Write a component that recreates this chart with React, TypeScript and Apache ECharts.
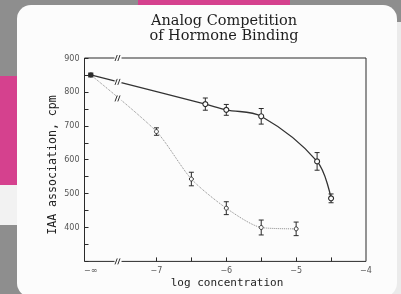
import React, { useEffect, useRef } from "react";
import * as echarts from "echarts";

// ---- data ----
const NEG_INF = -7.94; // plotting position of the "−∞" concentration
const BREAK_X = -7.55; // axis break position
const solidX = [NEG_INF, -6.3, -6, -5.5, -4.7, -4.5];
const solidY = [850, 764, 747, 728, 595, 486];
const solidErr = [0, 18, 16, 23, 26, 13];
const dotX = [NEG_INF, -7, -6.5, -6, -5.5, -5];
const dotY = [850, 683, 543, 457, 400, 396];
const dotErr = [0, 11, 20, 19, 22, 20];
const xTickValues = [-7, -6.5, -6, -5.5, -5, -4.5];
const xLabelValues = [NEG_INF, -7, -6, -5, -4];
const yMin = 300;
const yMax = 900;
const xMin = -8.03;
const xMax = -4;

function interpY(xs: number[], ys: number[], x: number) {
  for (let i = 0; i < xs.length - 1; i++) {
    if (x >= xs[i] && x <= xs[i + 1]) {
      const t = (x - xs[i]) / (xs[i + 1] - xs[i]);
      return ys[i] + t * (ys[i + 1] - ys[i]);
    }
  }
  return ys[0];
}

const GREY = "#8e8e8e";
const PINK = "#d5418e";
const CARD = "#fcfcfc";
const INK = "#2a2a2a";

export default function App() {
  const ref = useRef<HTMLDivElement>(null);
  useEffect(() => {
    if (!ref.current) return;
    const chart = echarts.init(ref.current, undefined, { renderer: "svg" });

    const errData = (xs: number[], ys: number[], es: number[]) =>
      xs.map((x, i) => [x, ys[i], es[i]]).filter((d) => d[2] > 0);

    const errorSeries = (data: number[][], color: string) => ({
      type: "custom",
      z: 3,
      clip: false,
      data,
      renderItem: (params: any, api: any) => {
        const x = api.value(0);
        const y = api.value(1);
        const e = api.value(2);
        const top = api.coord([x, y + e]);
        const bot = api.coord([x, y - e]);
        const hw = 2.5;
        const st = { stroke: color, lineWidth: 1 };
        return {
          type: "group",
          children: [
            { type: "line", shape: { x1: top[0], y1: top[1], x2: bot[0], y2: bot[1] }, style: st },
            { type: "line", shape: { x1: top[0] - hw, y1: top[1], x2: top[0] + hw, y2: top[1] }, style: st },
            { type: "line", shape: { x1: bot[0] - hw, y1: bot[1], x2: bot[0] + hw, y2: bot[1] }, style: st },
          ],
        };
      },
    });

    const breakData = [
      [BREAK_X, yMax],
      [BREAK_X, yMin],
      [BREAK_X, interpY(solidX, solidY, BREAK_X)],
      [BREAK_X, interpY(dotX, dotY, BREAK_X)],
    ];

    const option: any = {
      animation: false,
      graphic: [
        { type: "rect", z: -100, shape: { x: 0, y: 0, width: 401, height: 294 }, style: { fill: GREY } },
        { type: "rect", z: -99, shape: { x: 138, y: 0, width: 152, height: 30 }, style: { fill: PINK } },
        { type: "rect", z: -99, shape: { x: 0, y: 76, width: 30, height: 109 }, style: { fill: PINK } },
        { type: "rect", z: -99, shape: { x: 0, y: 185, width: 30, height: 40 }, style: { fill: "#f2f2f2" } },
        { type: "rect", z: -99, shape: { x: 390, y: 22, width: 11, height: 272 }, style: { fill: "#ebebeb" } },
        { type: "rect", z: -98, shape: { x: 17, y: 5, width: 380, height: 292, r: 14 }, style: { fill: CARD } },
        {
          type: "text",
          z: 10,
          x: 224,
          y: 12,
          style: {
            text: "Analog Competition\nof Hormone Binding",
            fontFamily: "DejaVu Serif",
            fontSize: 14.5,
            lineHeight: 15,
            fill: "#1e1e1e",
            align: "center",
            verticalAlign: "top",
          },
        },
        {
          type: "text",
          z: 10,
          x: 227,
          y: 282,
          style: {
            text: "log concentration",
            fontFamily: "DejaVu Sans Mono",
            fontSize: 11,
            fill: "#222",
            align: "center",
            verticalAlign: "middle",
          },
        },
        {
          type: "text",
          z: 10,
          x: 52,
          y: 165,
          rotation: Math.PI / 2,
          style: {
            text: "IAA association, cpm",
            fontFamily: "DejaVu Sans Mono",
            fontSize: 11.6,
            fill: "#222",
            align: "center",
            verticalAlign: "middle",
          },
        },
      ],
      grid: {
        left: 84.5,
        right: 35,
        top: 58,
        bottom: 32.6,
        show: true,
        borderColor: INK,
        borderWidth: 1,
        backgroundColor: "transparent",
      },
      xAxis: {
        type: "value",
        min: xMin,
        max: xMax,
        splitLine: { show: false },
        axisLine: { show: false },
        axisTick: {
          show: true,
          inside: true,
          length: 4,
          customValues: xTickValues,
          lineStyle: { color: INK },
        },
        axisLabel: {
          customValues: xLabelValues,
          margin: 5,
          fontSize: 8,
          fontFamily: "DejaVu Sans",
          color: "#555",
          formatter: (v: number) => (v < -7.5 ? "−∞" : "−" + Math.abs(v)),
        },
      },
      yAxis: {
        type: "value",
        min: yMin,
        max: yMax,
        interval: 50,
        splitLine: { show: false },
        axisLine: { show: false },
        axisTick: { show: true, inside: true, length: 4, lineStyle: { color: INK } },
        axisLabel: {
          margin: 5,
          fontSize: 8,
          fontFamily: "DejaVu Sans",
          color: "#555",
          formatter: (v: number) => (v % 100 === 0 && v > yMin ? String(v) : ""),
        },
      },
      series: [
        {
          type: "line",
          z: 4,
          smooth: 0.25,
          data: dotX.map((x, i) => [x, dotY[i]]),
          symbol: "circle",
          symbolSize: 4,
          itemStyle: { color: CARD, borderColor: "#333", borderWidth: 1 },
          lineStyle: { color: "#8a8a8a", width: 1, type: "dotted" },
        },
        {
          type: "line",
          z: 5,
          smooth: 0.35,
          data: solidX.map((x, i) =>
            i === 0
              ? { value: [x, solidY[i]], symbol: "rect", symbolSize: 4, itemStyle: { color: INK } }
              : [x, solidY[i]]
          ),
          symbol: "circle",
          symbolSize: 5,
          itemStyle: { color: CARD, borderColor: INK, borderWidth: 1.1 },
          lineStyle: { color: "#333", width: 1.3 },
        },
        errorSeries(errData(solidX, solidY, solidErr), INK),
        errorSeries(errData(dotX, dotY, dotErr), INK),
        {
          type: "custom",
          z: 10,
          clip: false,
          data: breakData,
          renderItem: (params: any, api: any) => {
            const p = api.coord([api.value(0), api.value(1)]);
            const cx = p[0];
            const cy = p[1];
            const st = { stroke: "#333", lineWidth: 1 };
            return {
              type: "group",
              children: [
                { type: "rect", shape: { x: cx - 3.5, y: cy - 1.5, width: 7, height: 3 }, style: { fill: CARD } },
                { type: "line", shape: { x1: cx - 3, y1: cy + 3, x2: cx - 0.8, y2: cy - 3 }, style: st },
                { type: "line", shape: { x1: cx - 0.2, y1: cy + 3, x2: cx + 2, y2: cy - 3 }, style: st },
              ],
            };
          },
        },
      ],
    };
    chart.setOption(option);
    return () => chart.dispose();
  }, []);
  return (
    <div
      ref={ref}
      style={{ position: "fixed", left: 0, top: 0, width: 401, height: 294 }}
    />
  );
}
